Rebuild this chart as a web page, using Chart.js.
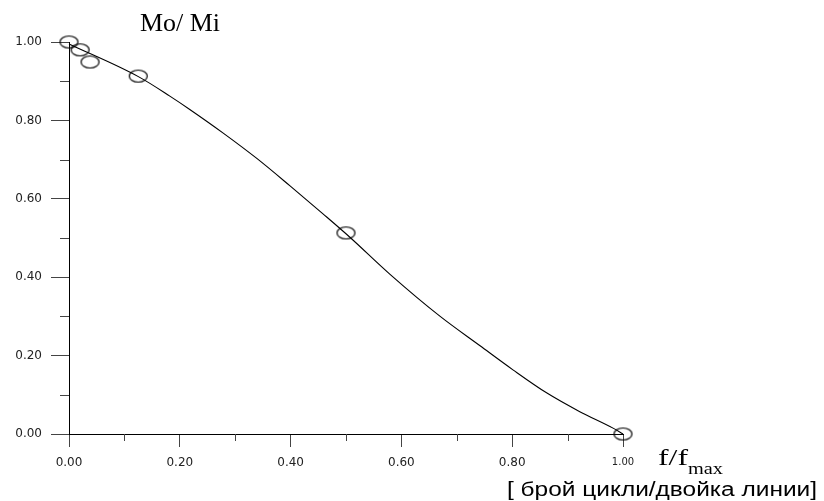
<!DOCTYPE html>
<html>
<head>
<meta charset="utf-8">
<script src="https://cdn.jsdelivr.net/npm/chart.js@4/dist/chart.umd.min.js"></script>
<style>
  html, body { margin: 0; padding: 0; background: #fff; }
  #wrap { width: 824px; height: 501px; }
</style>
</head>
<body>
<div id="wrap"><canvas id="plot"></canvas></div>
<script>
// measured points (circles)
var pointX = [0, 0.02, 0.038, 0.125, 0.5, 1.0];
var pointY = [1.0, 0.98, 0.949, 0.913, 0.513, 0.0];

// fitted curve
var curveX = [0, 0.126, 0.182, 0.218, 0.279, 0.339, 0.399, 0.459, 0.507, 0.579, 0.670, 0.742, 0.802, 0.862, 0.922, 0.982, 1.0];
var curveY = [0.995, 0.911, 0.862, 0.828, 0.767, 0.703, 0.633, 0.561, 0.502, 0.408, 0.300, 0.225, 0.163, 0.105, 0.057, 0.015, 0.0];

var majorTicks = [0, 0.2, 0.4, 0.6, 0.8, 1.0];
var minorTicks = [0.1, 0.3, 0.5, 0.7, 0.9];

// open ellipse marker
var marker = document.createElement('canvas');
marker.width = 21;
marker.height = 15;
var mctx = marker.getContext('2d');
mctx.strokeStyle = '#000';
mctx.lineWidth = 1.2;
mctx.beginPath();
mctx.ellipse(10.5, 7.5, 9, 6, 0, 0, Math.PI * 2);
mctx.stroke();

function toXY(xs, ys) {
    return xs.map(function (x, i) { return { x: x, y: ys[i] }; });
}

// draw text stretched horizontally to a given width
function textW(ctx, txt, x, y, width) {
    var w = ctx.measureText(txt).width;
    ctx.save();
    ctx.translate(x, y);
    ctx.scale(width / w, 1);
    ctx.fillText(txt, 0, 0);
    ctx.restore();
}

var extras = {
    id: 'extras',
    afterDraw: function (chart) {
        var ctx = chart.ctx;
        var xs = chart.scales.x, ys = chart.scales.y;
        ctx.save();
        ctx.strokeStyle = '#444';
        ctx.lineWidth = 1;
        ctx.beginPath();
        minorTicks.forEach(function (v) {
            var py = Math.round(ys.getPixelForValue(v)) + 0.5;
            ctx.moveTo(xs.left - 9, py);
            ctx.lineTo(xs.left, py);
            var px = Math.round(xs.getPixelForValue(v)) + 0.5;
            ctx.moveTo(px, ys.bottom);
            ctx.lineTo(px, ys.bottom + 7);
        });
        ctx.stroke();

        ctx.fillStyle = '#000';
        ctx.textBaseline = 'alphabetic';
        ctx.textAlign = 'left';
        ctx.font = '25px "Liberation Serif"';
        textW(ctx, 'Mo/ Mi', 140, 31, 80);

        ctx.font = '23px "Liberation Serif"';
        textW(ctx, 'f/f', 658, 465, 30);
        ctx.font = '17px "Liberation Serif"';
        textW(ctx, 'max', 688, 474, 35);

        ctx.font = '20px "Liberation Sans"';
        textW(ctx, '[ брой цикли/двойка линии]', 507, 496, 310);
        ctx.restore();
    }
};

var tickFont = function (c) {
    return { family: 'DejaVu Sans', size: (c.tick && c.tick.value === 1 && c.scale.axis === 'x') ? 10 : 12 };
};

var layout = {
    type: 'scatter',
    data: {
        datasets: [{
            label: 'curve',
            data: toXY(curveX, curveY),
            showLine: true,
            borderColor: '#000',
            borderWidth: 1.1,
            pointRadius: 0,
            cubicInterpolationMode: 'monotone',
            clip: false
        }, {
            label: 'points',
            data: toXY(pointX, pointY),
            showLine: false,
            pointStyle: marker,
            pointRadius: 9,
            clip: false
        }]
    },
    plugins: [extras],
    options: {
        responsive: true,
        maintainAspectRatio: false,
        animation: false,
        layout: { padding: { top: 42, right: 201, left: 0, bottom: 0 } },
        plugins: {
            legend: { display: false },
            tooltip: { enabled: false }
        },
        scales: {
            x: {
                type: 'linear',
                min: 0,
                max: 1,
                afterBuildTicks: function (s) { s.ticks = majorTicks.map(function (v) { return { value: v }; }); },
                afterFit: function (s) { s.height = 67; },
                border: { display: true, color: '#000', width: 1 },
                grid: { drawOnChartArea: false, tickLength: 13, tickColor: '#444' },
                ticks: {
                    padding: 9,
                    color: '#222',
                    maxRotation: 0,
                    font: tickFont,
                    callback: function (v) { return v.toFixed(2); }
                }
            },
            y: {
                type: 'linear',
                min: 0,
                max: 1,
                afterBuildTicks: function (s) { s.ticks = majorTicks.map(function (v) { return { value: v }; }); },
                afterFit: function (s) { s.width = 69; },
                border: { display: true, color: '#000', width: 1 },
                grid: { drawOnChartArea: false, tickLength: 18, tickColor: '#444' },
                ticks: {
                    padding: 9,
                    color: '#222',
                    font: tickFont,
                    callback: function (v) { return v.toFixed(2); }
                }
            }
        }
    }
};

new Chart(document.getElementById('plot'), layout);
</script>
</body>
</html>
